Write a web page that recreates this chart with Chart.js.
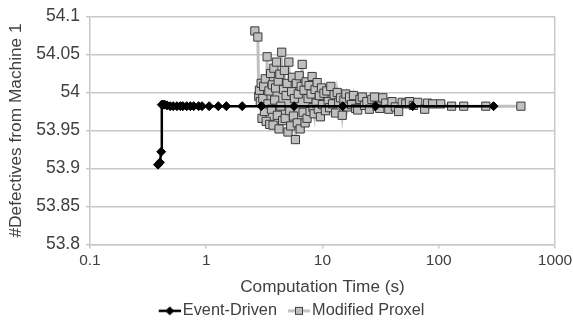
<!DOCTYPE html>
<html>
<head>
<meta charset="utf-8">
<script src="https://cdn.jsdelivr.net/npm/chart.js@4"></script>
<style>
  html, body { margin: 0; padding: 0; background: #fff; }
  #wrap { width: 573px; height: 329px; }
</style>
</head>
<body>
<div id="wrap"><canvas id="chart"></canvas></div>
<script>
// Event-Driven: computation time (s) and value
var eventTime = [0.385, 0.40, 0.41, 0.415, 0.425, 0.44, 0.46, 0.49, 0.52, 0.56, 0.60, 0.63, 0.68, 0.73, 0.78, 0.86, 0.92, 1.06, 1.27, 1.49, 2.04, 2.98, 5.7, 14.9, 28.6, 59.7, 296];
var eventValue = [53.905, 53.908, 53.922, 53.984, 53.984, 53.984, 53.983, 53.982, 53.982, 53.982, 53.982, 53.982, 53.982, 53.982, 53.982, 53.982, 53.982, 53.982, 53.982, 53.982, 53.982, 53.982, 53.982, 53.982, 53.982, 53.982, 53.982];

// Modified Proxel
var proxelTime = [2.62, 2.78, 2.83, 2.87, 2.92, 2.97, 3.02, 3.07, 3.12, 3.17, 3.22, 3.28, 3.34, 3.40, 3.46, 3.52, 3.58, 3.64, 3.70, 3.76,
  3.82, 3.88, 3.95, 4.02, 4.09, 4.16, 4.23, 4.30, 4.38, 4.46, 4.54, 4.62, 4.70, 4.78, 4.87, 4.96, 5.05, 5.14, 5.23, 5.33,
  5.43, 5.53, 5.63, 5.74, 5.85, 5.96, 6.07, 6.19, 6.31, 6.43, 6.56, 6.69, 6.82, 6.95, 7.09, 7.23, 7.37, 7.52, 7.67, 7.82,
  7.98, 8.14, 8.3, 8.47, 8.64, 8.82, 9.0, 9.2, 9.4, 9.6, 9.8, 10.0, 10.3, 10.6, 10.9, 11.2, 11.5, 11.8, 12.2, 12.6,
  13.0, 13.4, 13.8, 14.3, 14.8, 15.3, 15.9, 16.5, 17.1, 17.8, 18.5, 19.3, 20.1, 21.0, 22.0, 23.0, 24.1, 25.3, 26.6, 28.0,
  29.5, 31.1, 33.0, 35.0, 37.2, 39.6, 42.3, 45.2, 48.5, 52.0, 56.0, 60.5, 66.0, 75.7, 80.0, 88.7, 104, 129, 164, 254, 509];
var proxelValue = [54.081, 54.073, 53.995, 54.003, 53.988, 54.012, 53.966, 53.992, 54.008, 53.975, 54.018, 53.962, 54.047, 53.985, 54.002, 53.958, 54.025, 53.978, 54.010, 53.957,
  54.032, 53.990, 54.006, 54.040, 53.970, 54.015, 53.952, 54.024, 53.982, 54.053, 53.963, 54.004, 54.029, 53.966, 53.996, 54.012, 53.948, 54.040, 53.976, 53.956,
  54.001, 54.020, 53.969, 53.992, 53.938, 54.012, 53.960, 53.998, 54.022, 53.952, 54.008, 54.037, 53.974, 54.003, 53.960, 54.014, 53.966, 53.992, 54.009, 53.975,
  53.998, 54.021, 53.980, 53.972, 54.004, 53.986, 54.013, 53.978, 53.996, 53.968, 54.006, 53.984, 53.999, 53.976, 54.002, 53.988, 53.980, 54.008, 53.985, 53.997,
  53.973, 54.000, 53.987, 53.993, 53.970, 53.990, 53.998, 53.981, 53.994, 53.984, 53.996, 53.979, 53.977, 53.991, 53.994, 53.983, 53.988, 53.978, 53.991, 53.994,
  53.982, 53.979, 53.993, 53.986, 53.978, 53.988, 53.981, 53.975, 53.987, 53.985, 53.988, 53.983, 53.987, 53.978, 53.986, 53.985, 53.985, 53.982, 53.982, 53.982, 53.982];

var xTicks = [0.1, 1, 10, 100, 1000];
var yMin = 53.8, yMax = 54.1, yStep = 0.05;

function toPoints(xs, ys) {
  var out = [];
  for (var i = 0; i < xs.length; i++) out.push({x: xs[i], y: ys[i]});
  return out;
}

// legend symbol: line with the marker on it, drawn in the right part of the image
function legendIcon(lineColor, lineWidth, marker) {
  var c = document.createElement('canvas');
  c.width = 34; c.height = 12;
  var g = c.getContext('2d');
  g.strokeStyle = lineColor;
  g.lineWidth = lineWidth;
  g.beginPath(); g.moveTo(12, 6); g.lineTo(34, 6); g.stroke();
  if (marker == 'diamond') {
    g.fillStyle = '#000';
    g.beginPath(); g.moveTo(23, 1.5); g.lineTo(27.5, 6); g.lineTo(23, 10.5); g.lineTo(18.5, 6); g.closePath(); g.fill();
  } else {
    g.fillStyle = '#c0c0c0';
    g.fillRect(19, 2, 8, 8);
    g.strokeStyle = '#404040'; g.lineWidth = 1;
    g.strokeRect(19.5, 2.5, 7, 7);
  }
  return c;
}
var icons = [legendIcon('#000', 2.5, 'diamond'), legendIcon('#c0c0c0', 3, 'square')];

var fam = "'Liberation Sans', Arial, sans-serif";
var textColor = '#404040';

new Chart(document.getElementById('chart'), {
  type: 'scatter',
  data: {
    datasets: [
      {
        label: 'Event-Driven',
        data: toPoints(eventTime, eventValue),
        showLine: true,
        borderColor: '#000',
        borderWidth: 2.5,
        pointStyle: 'rectRot',
        pointRadius: 4.5,
        pointBackgroundColor: '#000',
        pointBorderColor: '#000',
        pointBorderWidth: 1
      },
      {
        label: 'Modified Proxel',
        data: toPoints(proxelTime, proxelValue),
        showLine: true,
        borderColor: '#c0c0c0',
        borderWidth: 3,
        pointStyle: 'rect',
        pointRadius: 5.8,
        pointBackgroundColor: '#c0c0c0',
        pointBorderColor: '#3a3a3a',
        pointBorderWidth: 1
      }
    ]
  },
  options: {
    responsive: true,
    maintainAspectRatio: false,
    animation: false,
    layout: {padding: {top: 6, right: 0, left: 4, bottom: 0}},
    plugins: {
      tooltip: {enabled: false},
      legend: {
        position: 'bottom',
        labels: {
          color: textColor,
          font: {family: fam, size: 16.3},
          usePointStyle: true,
          pointStyleWidth: 22,
          padding: 5,
          generateLabels: function(chart) {
            return chart.data.datasets.map(function(ds, i) {
              return {text: ds.label, pointStyle: icons[i], fontColor: textColor, datasetIndex: i, lineWidth: 0, strokeStyle: 'transparent', fillStyle: 'transparent'};
            });
          }
        }
      }
    },
    scales: {
      x: {
        type: 'logarithmic',
        min: 0.1,
        max: 1000,
        afterBuildTicks: function(axis) {
          axis.ticks = xTicks.map(function(v) { return {value: v}; });
        },
        afterFit: function(axis) { axis.paddingRight = 18; },
        ticks: {
          color: textColor,
          font: {family: fam, size: 15.5},
          autoSkip: false,
          maxRotation: 0,
          padding: 3,
          callback: function(v) { return String(v); }
        },
        grid: {
          // only the right edge of the plot gets a vertical line
          color: function(ctx) { return ctx.tick && ctx.tick.value === 1000 ? '#c8c8c8' : 'rgba(0,0,0,0)'; },
          tickColor: '#c8c8c8',
          tickLength: 4,
          lineWidth: 1.5
        },
        border: {color: '#c8c8c8', width: 1.5},
        title: {display: true, text: 'Computation Time (s)', color: textColor, font: {family: fam, size: 17.2}, padding: {top: 4, bottom: 0}}
      },
      y: {
        min: yMin,
        max: yMax,
        ticks: {
          stepSize: yStep,
          color: textColor,
          font: {family: fam, size: 17.5},
          padding: 6,
          callback: function(v) { return String(+v.toFixed(2)); }
        },
        grid: {color: '#c8c8c8', lineWidth: 1.5, tickLength: 4},
        border: {color: '#c8c8c8', width: 1.5},
        title: {display: true, text: '#Defectives from Machine 1', color: textColor, font: {family: fam, size: 17.3}, padding: {top: 2, bottom: 3.4}}
      }
    }
  }
});
</script>
</body>
</html>
